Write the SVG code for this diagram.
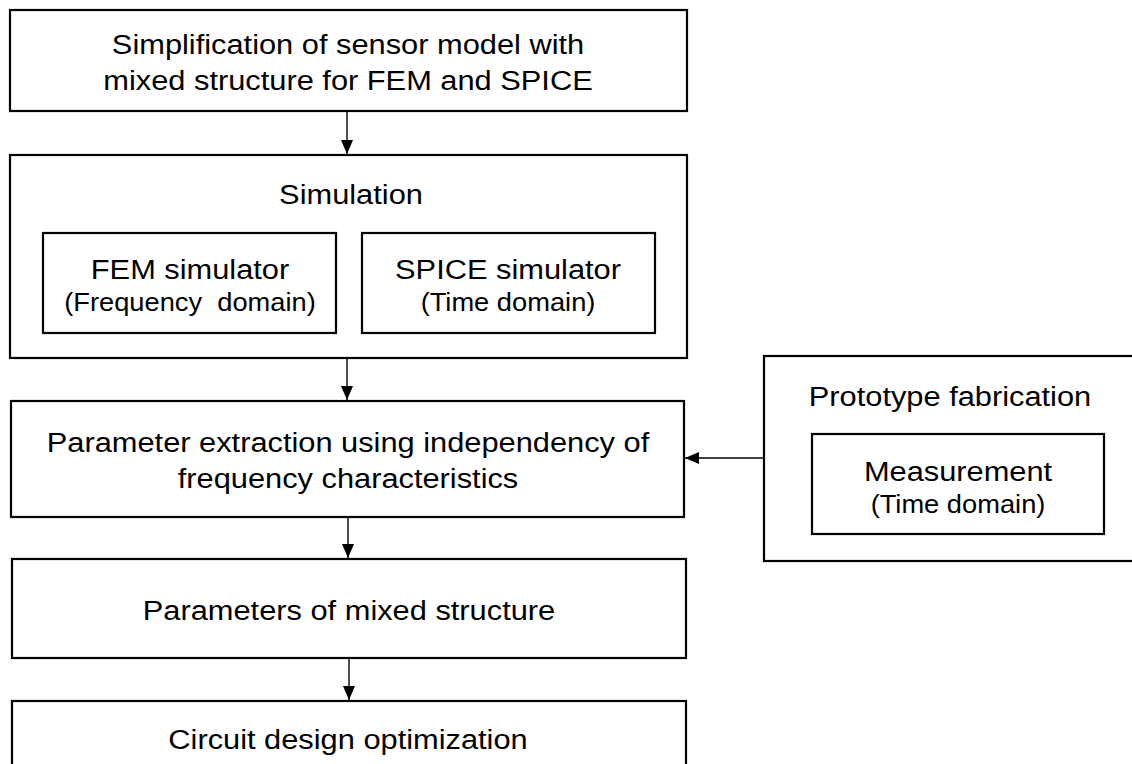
<svg xmlns="http://www.w3.org/2000/svg" width="1132" height="764" viewBox="0 0 1132 764">
<style>
.box{fill:#fff;stroke:#000;stroke-width:2.2}
.t{font-family:"Liberation Sans",Arial,sans-serif;font-size:28px;fill:#000;text-anchor:middle}
.s{font-family:"Liberation Sans",Arial,sans-serif;font-size:25.5px;fill:#000;text-anchor:middle}
.c{stroke:#000;stroke-width:1.4;fill:none}
</style>
<defs>
<marker id="ah" markerUnits="userSpaceOnUse" markerWidth="14" markerHeight="12" viewBox="0 0 14 12" refX="14" refY="6" orient="auto">
<path d="M0,0 L14,6 L0,12 Z" fill="#000"/>
</marker>
</defs>
<rect width="1132" height="764" fill="#fff"/>
<g id="n-simplification">
<rect class="box" x="10" y="10" width="677" height="101"/>
<text class="t" transform="translate(348 54) scale(1.1 1)">Simplification of sensor model with</text>
<text class="t" transform="translate(348 90) scale(1.1 1)">mixed structure for FEM and SPICE</text>
</g>
<g id="n-simulation">
<rect class="box" x="10" y="155" width="677" height="203"/>
<text class="t" transform="translate(351 204) scale(1.1 1)">Simulation</text>
<g id="n-fem">
<rect class="box" x="43" y="233" width="293" height="100"/>
<text class="t" transform="translate(190 279) scale(1.1 1)">FEM simulator</text>
<text class="s" transform="translate(190 311) scale(1.07 1)" xml:space="preserve">(Frequency  domain)</text>
</g>
<g id="n-spice">
<rect class="box" x="362" y="233" width="293" height="100"/>
<text class="t" transform="translate(508 279) scale(1.1 1)">SPICE simulator</text>
<text class="s" transform="translate(508 311) scale(1.07 1)">(Time domain)</text>
</g>
</g>
<g id="n-extraction">
<rect class="box" x="11" y="401" width="673" height="116"/>
<text class="t" transform="translate(348 452) scale(1.1 1)">Parameter extraction using independency of</text>
<text class="t" transform="translate(348 488) scale(1.1 1)">frequency characteristics</text>
</g>
<g id="n-parameters">
<rect class="box" x="12" y="559" width="674" height="99"/>
<text class="t" transform="translate(349 620) scale(1.1 1)">Parameters of mixed structure</text>
</g>
<g id="n-circuit">
<rect class="box" x="12" y="701" width="674" height="80"/>
<text class="t" transform="translate(348 749) scale(1.1 1)">Circuit design optimization</text>
</g>
<g id="n-prototype">
<rect class="box" x="764" y="356" width="380" height="205"/>
<text class="t" transform="translate(950 406) scale(1.1 1)">Prototype fabrication</text>
<g id="n-measurement">
<rect class="box" x="812" y="434" width="292" height="100"/>
<text class="t" transform="translate(958 481) scale(1.1 1)">Measurement</text>
<text class="s" transform="translate(958 513) scale(1.07 1)">(Time domain)</text>
</g>
</g>
<g id="connectors">
<line class="c" x1="347" y1="111" x2="347" y2="154" marker-end="url(#ah)"/>
<line class="c" x1="347" y1="358" x2="347" y2="400" marker-end="url(#ah)"/>
<line class="c" x1="348" y1="517" x2="348" y2="558" marker-end="url(#ah)"/>
<line class="c" x1="349" y1="658" x2="349" y2="700" marker-end="url(#ah)"/>
<line class="c" x1="764" y1="458" x2="685" y2="458" marker-end="url(#ah)"/>
</g>
</svg>
